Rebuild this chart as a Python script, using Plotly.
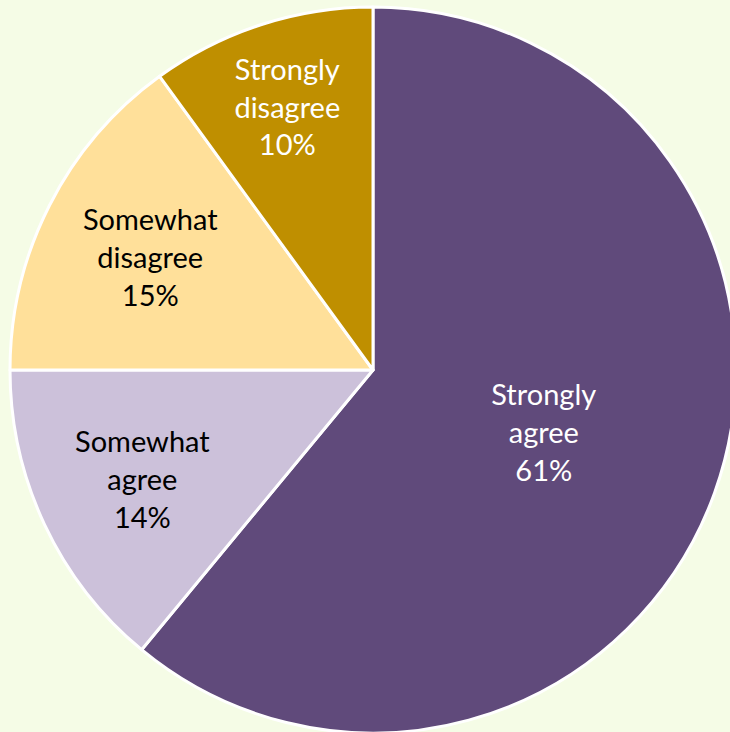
import plotly.graph_objects as go

labels = ["Strongly agree", "Somewhat agree", "Somewhat disagree", "Strongly disagree"]
display_labels = ["Strongly<br>agree", "Somewhat<br>agree", "Somewhat<br>disagree", "Strongly<br>disagree"]
values = [61, 14, 15, 10]
colors = ["#604A7B", "#CCC1DA", "#FFE09A", "#BF8F00"]
text_colors = ["white", "black", "black", "white"]

W, H = 746, 741
fig = go.Figure(go.Pie(
    labels=labels,
    values=values,
    text=display_labels,
    texttemplate="%{text}<br>%{value}%",
    textposition="inside",
    insidetextorientation="horizontal",
    textfont=dict(family="Lato", size=29, color=text_colors),
    marker=dict(colors=colors, line=dict(color="white", width=3)),
    sort=False,
    direction="clockwise",
    rotation=0,
    showlegend=False,
    hoverinfo="label+percent",
    domain=dict(x=[10 / W, 736 / W], y=[8 / H, 734 / H]),
))

fig.update_layout(
    width=W, height=H,
    margin=dict(l=0, r=0, t=0, b=0),
    paper_bgcolor="#F5FCE6",
    plot_bgcolor="#F5FCE6",
)

fig.write_html(
    "out.html",
    config={"displayModeBar": False},
    post_script="document.body.style.margin='0';document.body.style.overflow='hidden';document.body.style.background='#F5FCE6';",
)
